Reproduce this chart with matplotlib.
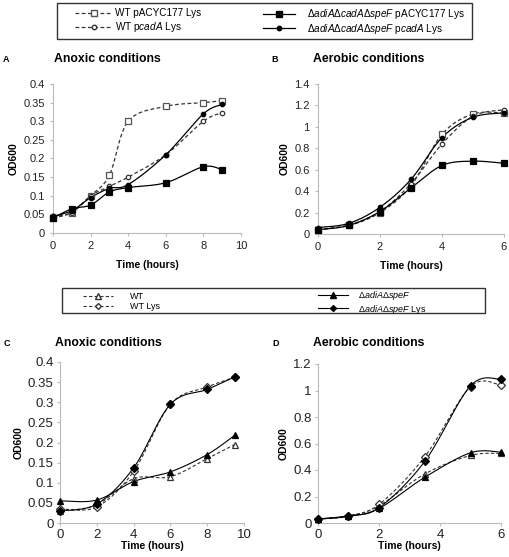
import numpy as np
import matplotlib
matplotlib.use("Agg")
import matplotlib.pyplot as plt
from matplotlib.lines import Line2D
from matplotlib.patches import Rectangle

plt.rcParams['font.family'] = ['Liberation Sans', 'DejaVu Sans']
plt.rcParams['mathtext.fontset'] = 'custom'
plt.rcParams['mathtext.rm'] = 'Liberation Sans'
plt.rcParams['mathtext.it'] = 'Liberation Sans:italic'
plt.rcParams['mathtext.bf'] = 'Liberation Sans:bold'

# ---------------- data ----------------
# Panel A: anoxic, Lys
a_time = [0, 1, 2, 3, 4, 6, 8, 9]
a_wt_pacyc = [0.040, 0.055, 0.100, 0.155, 0.300, 0.340, 0.350, 0.355]
a_wt_pcada = [0.045, 0.055, 0.100, 0.125, 0.150, 0.210, 0.300, 0.323]
a_tri_pacyc = [0.040, 0.065, 0.075, 0.110, 0.122, 0.135, 0.178, 0.170]
a_tri_pcada = [0.045, 0.060, 0.095, 0.120, 0.130, 0.210, 0.320, 0.345]

# Panel B: aerobic, Lys
b_time = [0, 1, 2, 3, 4, 5, 6]
b_wt_pacyc = [0.040, 0.080, 0.200, 0.450, 0.930, 1.120, 1.130]
b_wt_pcada = [0.040, 0.085, 0.210, 0.470, 0.840, 1.100, 1.160]
b_tri_pacyc = [0.040, 0.080, 0.210, 0.430, 0.640, 0.680, 0.660]
b_tri_pcada = [0.060, 0.100, 0.250, 0.510, 0.900, 1.090, 1.130]

# Panel C: anoxic
c_time = [0, 2, 4, 6, 8, 9.5]
c_wt = [0.030, 0.045, 0.110, 0.115, 0.160, 0.195]
c_wt_lys = [0.035, 0.040, 0.128, 0.295, 0.338, 0.362]
c_dm = [0.055, 0.057, 0.103, 0.127, 0.170, 0.218]
c_dm_lys = [0.030, 0.047, 0.137, 0.295, 0.332, 0.363]

# Panel D: aerobic
d_time = [0, 1, 2, 3.5, 5, 6]
d_wt = [0.030, 0.050, 0.130, 0.370, 0.510, 0.525]
d_wt_lys = [0.030, 0.055, 0.140, 0.500, 1.030, 1.040]
d_dm = [0.030, 0.050, 0.110, 0.345, 0.530, 0.535]
d_dm_lys = [0.030, 0.055, 0.115, 0.465, 1.035, 1.085]

legend_top = ['WT pACYC177 Lys', r'WT p$\it{cadA}$ Lys',
              r'Δ$\it{adiA}$Δ$\it{cadA}$Δ$\it{speF}$ pACYC177 Lys',
              r'Δ$\it{adiA}$Δ$\it{cadA}$Δ$\it{speF}$ p$\it{cadA}$ Lys']
legend_bottom = ['WT', 'WT Lys', r'Δ$\it{adiA}$Δ$\it{speF}$',
                 r'Δ$\it{adiA}$Δ$\it{speF}$ Lys']


def smooth(x, y, xr, yr, n=30):
    """Excel-like smoothed line (Bezier with Catmull-Rom control points)."""
    x = np.asarray(x, float) / xr
    y = np.asarray(y, float) / yr
    P = np.column_stack([x, y])
    out = []
    m = len(P)
    for i in range(m - 1):
        p0 = P[i - 1] if i > 0 else P[i]
        p1 = P[i]
        p2 = P[i + 1]
        p3 = P[i + 2] if i + 2 < m else P[i + 1]
        c1 = p1 + (p2 - p0) / 6.0
        c2 = p2 - (p3 - p1) / 6.0
        t = np.linspace(0, 1, n)[:, None]
        seg = ((1 - t) ** 3) * p1 + 3 * ((1 - t) ** 2) * t * c1 + 3 * (1 - t) * t ** 2 * c2 + t ** 3 * p2
        out.append(seg if i == 0 else seg[1:])
    out = np.vstack(out)
    return out[:, 0] * xr, out[:, 1] * yr


fig = plt.figure(figsize=(5.10, 5.57), dpi=100)
W, H = 510.0, 557.0


def ax_at(l, r, t, b):
    return fig.add_axes([l / W, 1 - b / H, (r - l) / W, (b - t) / H])


def gfmt(v):
    return f"{v:.2f}".rstrip('0').rstrip('.')


def style(ax, xlim, ylim, xticks, yticks, tsize, xpad, tpad):
    ax.set_xlim(*xlim)
    ax.set_ylim(*ylim)
    ax.set_xticks(xticks)
    ax.set_yticks(yticks)
    ax.set_yticklabels([gfmt(v) for v in yticks])
    ax.set_xticklabels([f"{v:g}" for v in xticks])
    for s in ['top', 'right']:
        ax.spines[s].set_visible(False)
    for s in ['left', 'bottom']:
        ax.spines[s].set_color('#bbbbbb')
        ax.spines[s].set_linewidth(0.8)
    ax.tick_params(axis='both', colors='#bbbbbb', labelcolor='#222222',
                   labelsize=tsize, length=2.5, width=0.8, direction='out', pad=tpad)
    ax.set_xlabel('Time (hours)', fontsize=7.5, fontweight='bold', labelpad=xpad)
    ax.set_ylabel('OD600', fontsize=7.5, fontweight='bold', labelpad=3)


def plot_series(ax, x, y, xr, yr, ls, marker, ms, mfc, mec, lc='black', lw=0.9):
    sx, sy = smooth(x, y, xr, yr)
    ax.plot(sx, sy, ls=ls, color=lc, lw=lw, zorder=2, clip_on=False)
    ax.plot(x, y, ls='none', marker=marker, ms=ms, mfc=mfc, mec=mec, mew=0.9,
            zorder=3, clip_on=False)


DASH = (0, (3, 2))

# ---------- Panel A ----------
axA = ax_at(53, 241, 84, 233)
style(axA, (0, 10), (0, 0.4), [0, 2, 4, 6, 8, 10],
      [0, 0.05, 0.1, 0.15, 0.2, 0.25, 0.3, 0.35, 0.4], 8, 6, 3.5)
plot_series(axA, a_time, a_wt_pacyc, 10, 0.4, DASH, 's', 4.2, 'white', '#555555', lc='#333333')
plot_series(axA, a_time, a_wt_pcada, 10, 0.4, DASH, 'o', 3.2, 'white', '#333333', lc='#333333')
plot_series(axA, a_time, a_tri_pacyc, 10, 0.4, '-', 's', 5, 'black', 'black')
plot_series(axA, a_time, a_tri_pcada, 10, 0.4, '-', 'o', 3.2, 'black', 'black')

# ---------- Panel B ----------
axB = ax_at(318, 504, 84, 234)
style(axB, (0, 6), (0, 1.4), [0, 2, 4, 6],
      [0, 0.2, 0.4, 0.6, 0.8, 1.0, 1.2, 1.4], 8, 6, 3.5)
plot_series(axB, b_time, b_wt_pacyc, 6, 1.4, DASH, 's', 4.2, 'white', '#555555', lc='#333333')
plot_series(axB, b_time, b_wt_pcada, 6, 1.4, DASH, 'o', 3.2, 'white', '#333333', lc='#333333')
plot_series(axB, b_time, b_tri_pacyc, 6, 1.4, '-', 's', 5, 'black', 'black')
plot_series(axB, b_time, b_tri_pcada, 6, 1.4, '-', 'o', 3.2, 'black', 'black')

# ---------- Panel C ----------
axC = ax_at(60, 244, 362, 523)
style(axC, (0, 10), (0, 0.4), [0, 2, 4, 6, 8, 10],
      [0, 0.05, 0.1, 0.15, 0.2, 0.25, 0.3, 0.35, 0.4], 9.5, 0, 2)
plot_series(axC, c_time, c_wt, 10, 0.4, DASH, '^', 4.5, 'white', '#333333', lc='#333333', lw=0.8)
plot_series(axC, c_time, c_wt_lys, 10, 0.4, DASH, 'D', 3.6, 'white', '#333333', lc='#333333', lw=0.8)
plot_series(axC, c_time, c_dm, 10, 0.4, '-', '^', 4.5, 'black', 'black', lw=0.8)
plot_series(axC, c_time, c_dm_lys, 10, 0.4, '-', 'D', 3.6, 'black', 'black', lw=0.8)

# ---------- Panel D ----------
axD = ax_at(318, 501, 364, 523)
style(axD, (0, 6), (0, 1.2), [0, 2, 4, 6],
      [0, 0.2, 0.4, 0.6, 0.8, 1.0, 1.2], 9.5, 0, 2)
plot_series(axD, d_time, d_wt, 6, 1.2, DASH, '^', 4.5, 'white', '#333333', lc='#333333', lw=0.8)
plot_series(axD, d_time, d_wt_lys, 6, 1.2, DASH, 'D', 3.6, 'white', '#333333', lc='#333333', lw=0.8)
plot_series(axD, d_time, d_dm, 6, 1.2, '-', '^', 4.5, 'black', 'black', lw=0.8)
plot_series(axD, d_time, d_dm_lys, 6, 1.2, '-', 'D', 3.6, 'black', 'black', lw=0.8)

# ---------- titles and panel letters ----------
def ftext(x, y, s, **kw):
    fig.text(x / W, 1 - y / H, s, **kw)

for (lx, ly, letter, tx, title) in [(3, 59, 'A', 54, 'Anoxic conditions'),
                                    (271, 59, 'B', 313, 'Aerobic conditions'),
                                    (4, 343, 'C', 55, 'Anoxic conditions'),
                                    (272, 343, 'D', 313, 'Aerobic conditions')]:
    ftext(lx, ly, letter, fontsize=6.5, fontweight='bold', va='center')
    ftext(tx, ly, title, fontsize=8.8, fontweight='bold', va='center')

# ---------- legends ----------
def col_legend(handles, labels, x, ytop, fs, hl, htp, ls):
    lg = fig.legend(handles, labels, loc='upper left',
                    bbox_to_anchor=(x / W, 1 - ytop / H), frameon=False,
                    fontsize=fs, handlelength=hl, handletextpad=htp,
                    borderpad=0, borderaxespad=0, labelspacing=ls)
    return lg

ht = [
    Line2D([], [], ls=DASH, color='#333333', lw=0.9, marker='s', ms=4, mfc='white', mec='#555555'),
    Line2D([], [], ls=DASH, color='#333333', lw=0.9, marker='o', ms=3.2, mfc='white', mec='#333333'),
    Line2D([], [], ls='-', color='black', lw=0.9, marker='s', ms=4.5, mfc='black', mec='black'),
    Line2D([], [], ls='-', color='black', lw=0.9, marker='o', ms=3.2, mfc='black', mec='black'),
]
col_legend(ht[:2], legend_top[:2], 75, 8, 7.2, 3.7, 0.3, 0.2)
col_legend(ht[2:], legend_top[2:], 263, 7, 7.2, 3.2, 1.2, 0.05)
fig.add_artist(Rectangle((57 / W, 1 - 39 / H), 415 / W, 36 / H, transform=fig.transFigure,
                         fill=False, edgecolor='#333333', lw=1.0))

hb = [
    Line2D([], [], ls=DASH, color='#333333', lw=0.8, marker='^', ms=4, mfc='white', mec='#333333'),
    Line2D([], [], ls=DASH, color='#333333', lw=0.8, marker='D', ms=3, mfc='white', mec='#333333'),
    Line2D([], [], ls='-', color='black', lw=0.8, marker='^', ms=4, mfc='black', mec='black'),
    Line2D([], [], ls='-', color='black', lw=0.8, marker='D', ms=3, mfc='black', mec='black'),
]
col_legend(hb[:2], legend_bottom[:2], 83, 292, 6.5, 3.3, 1.9, 0.15)
col_legend(hb[2:], legend_bottom[2:], 318, 289.5, 6.5, 3.3, 1.1, 0.0)
fig.add_artist(Rectangle((62 / W, 1 - 313 / H), 423 / W, 25 / H, transform=fig.transFigure,
                         fill=False, edgecolor='#333333', lw=1.0))

fig.savefig('out.png', dpi=100)
